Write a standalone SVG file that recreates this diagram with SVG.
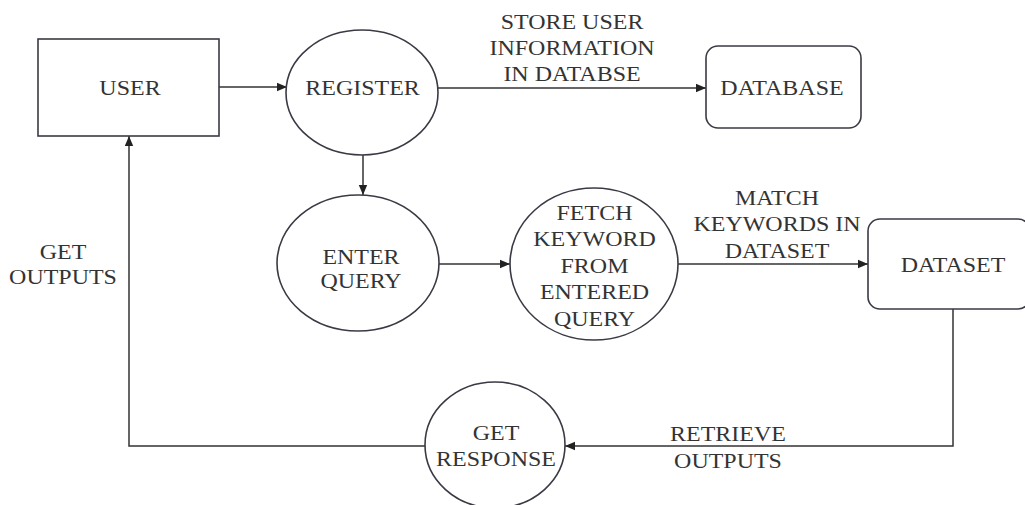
<svg xmlns="http://www.w3.org/2000/svg" width="1025" height="505" viewBox="0 0 1025 505">
  <defs>
    <marker id="arr" markerUnits="userSpaceOnUse" markerWidth="11" markerHeight="10" refX="10" refY="5" orient="auto">
      <path d="M0,0.8 L10,5 L0,9.2 Z" fill="#222"/>
    </marker>
    <style>
      .shape { fill: #ffffff; stroke: #3a3a44; stroke-width: 1.6; }
      .conn { fill: none; stroke: #333; stroke-width: 1.5; marker-end: url(#arr); }
      .t { font-family: "Liberation Serif", "Times New Roman", serif; font-size: 22px; fill: #333; text-anchor: middle; }
    </style>
  </defs>
  <rect width="1025" height="505" fill="#ffffff"/>

  <g id="connectors">
    <line class="conn" x1="219" y1="87" x2="287" y2="87"/>
    <line class="conn" x1="438" y1="88" x2="706" y2="88"/>
    <line class="conn" x1="363" y1="155" x2="363" y2="195"/>
    <line class="conn" x1="439" y1="264" x2="510" y2="264"/>
    <line class="conn" x1="678" y1="264" x2="868" y2="264"/>
    <path class="conn" d="M953,309 V446 H565"/>
    <path class="conn" d="M425,446 H129 V136"/>
    <g transform="translate(572,0) scale(1.09,1)">
      <text class="t" x="0" y="29.5">STORE USER</text>
      <text class="t" x="0" y="55.5">INFORMATION</text>
      <text class="t" x="0" y="81.5">IN DATABSE</text>
    </g>
    <g transform="translate(777,0) scale(1.09,1)">
      <text class="t" x="0" y="205.5">MATCH</text>
      <text class="t" x="0" y="231.5">KEYWORDS IN</text>
      <text class="t" x="0" y="258.5">DATASET</text>
    </g>
    <g transform="translate(728,0) scale(1.09,1)">
      <text class="t" x="0" y="441.5">RETRIEVE</text>
      <text class="t" x="0" y="468.5">OUTPUTS</text>
    </g>
    <g transform="translate(63,0) scale(1.09,1)">
      <text class="t" x="0" y="259.5">GET</text>
      <text class="t" x="0" y="284.5">OUTPUTS</text>
    </g>
  </g>

  <g id="user">
    <rect class="shape" x="38" y="39" width="181" height="97"/>
    <g transform="translate(130,0) scale(1.09,1)"><text class="t" x="0" y="95.5">USER</text></g>
  </g>

  <g id="register">
    <ellipse class="shape" cx="362" cy="92.5" rx="76" ry="62.5"/>
    <g transform="translate(362.5,0) scale(1.09,1)"><text class="t" x="0" y="95.5">REGISTER</text></g>
  </g>

  <g id="database">
    <rect class="shape" x="706" y="46" width="155" height="82" rx="12" ry="12"/>
    <g transform="translate(782,0) scale(1.09,1)"><text class="t" x="0" y="95.5">DATABASE</text></g>
  </g>

  <g id="enter-query">
    <ellipse class="shape" cx="358" cy="263" rx="81" ry="68"/>
    <g transform="translate(361,0) scale(1.09,1)">
      <text class="t" x="0" y="264.5">ENTER</text>
      <text class="t" x="0" y="288.5">QUERY</text>
    </g>
  </g>

  <g id="fetch-keyword">
    <ellipse class="shape" cx="594" cy="264" rx="84" ry="76"/>
    <g transform="translate(594.5,0) scale(1.09,1)">
      <text class="t" x="0" y="220">FETCH</text>
      <text class="t" x="0" y="246.5">KEYWORD</text>
      <text class="t" x="0" y="273">FROM</text>
      <text class="t" x="0" y="299.5">ENTERED</text>
      <text class="t" x="0" y="326">QUERY</text>
    </g>
  </g>

  <g id="dataset">
    <rect class="shape" x="868" y="219" width="162" height="90" rx="12" ry="12"/>
    <g transform="translate(953,0) scale(1.09,1)"><text class="t" x="0" y="272.5">DATASET</text></g>
  </g>

  <g id="get-response">
    <ellipse class="shape" cx="495" cy="445" rx="70" ry="63"/>
    <g transform="translate(496,0) scale(1.09,1)">
      <text class="t" x="0" y="440.5">GET</text>
      <text class="t" x="0" y="466.5">RESPONSE</text>
    </g>
  </g>
</svg>
